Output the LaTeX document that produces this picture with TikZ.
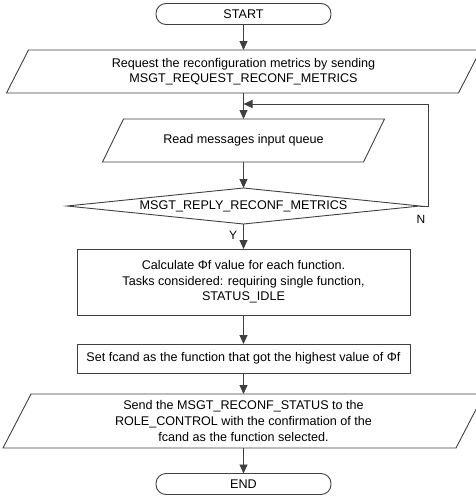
\documentclass[tikz,border=0pt]{standalone}
\usepackage{fontspec}
\setmainfont{Liberation Sans}
\usetikzlibrary{arrows.meta,calc}
\definecolor{ln}{HTML}{404040}
\begin{document}
\begin{tikzpicture}[x=1pt,y=-1pt,
  every node/.style={inner sep=0pt,outer sep=0pt,align=center,text=black,font=\fontsize{12.6}{15.6}\selectfont},
  term/.style={draw=ln,line width=0.9pt,rounded corners=10pt,minimum width=175pt,minimum height=21pt},
  box/.style={draw=ln,line width=0.9pt,minimum width=333pt},
  plain/.style={},
  outline/.style={draw=ln,line width=0.9pt},
  flow/.style={draw=ln,line width=0.9pt,-{Triangle[width=8pt,length=9pt]}},
  lbl/.style={font=\fontsize{12}{14}\selectfont}]
\useasboundingbox (0,0) rectangle (475,498);
\node[term] (start) at (243.5,14) {START};
\node[plain,minimum width=452pt,minimum height=43pt] (p1) at (243.5,71.5)
  {Request the reconfiguration metrics by sending\\MSGT\_REQUEST\_RECONF\_METRICS};
\node[plain,minimum width=261pt,minimum height=43pt] (p2) at (243.5,140.5)
  {Read messages input queue};
\node[plain,minimum width=353pt,minimum height=36pt] (d) at (243.5,206)
  {MSGT\_REPLY\_RECONF\_METRICS};
\node[box,minimum height=66pt] (r1) at (243.5,282)
  {Calculate Φf value for each function.\\Tasks considered: requiring single function,\\STATUS\_IDLE};
\node[box,minimum height=29pt] (r2) at (243.5,358.5)
  {Set fcand as the function that got the highest value of Φf};
\node[plain,minimum width=453pt,minimum height=54pt] (p3) at (243.5,421)
  {Send the MSGT\_RECONF\_STATUS to the\\ROLE\_CONTROL with the confirmation of the\\fcand as the function selected.};
\node[term] (end) at (243.5,484) {END};
% outlines
\draw[outline] ($(p1.south west)+(-11,0)$) -- ($(p1.south east)+(-11,0)$) -- ($(p1.north east)+(11,0)$) -- ($(p1.north west)+(11,0)$) -- cycle;
\draw[outline] ($(p2.south west)+(-10.5,0)$) -- ($(p2.south east)+(-10.5,0)$) -- ($(p2.north east)+(10.5,0)$) -- ($(p2.north west)+(10.5,0)$) -- cycle;
\draw[outline] ($(p3.south west)+(-14,0)$) -- ($(p3.south east)+(-14,0)$) -- ($(p3.north east)+(14,0)$) -- ($(p3.north west)+(14,0)$) -- cycle;
\draw[outline] (d.west) -- (d.north) -- (d.east) -- (d.south) -- cycle;
% connectors
\coordinate (j) at (243.5,104);
\coordinate (rt) at (428,206);
\draw[flow] (start) -- (p1);
\draw[flow] (p1) -- (p2);
\draw[flow] (p2) -- (d.north);
\draw[flow] (d.south) -- (r1);
\draw[flow] (r1) -- (r2);
\draw[flow] (r2) -- (p3);
\draw[flow] (p3) -- (end);
\draw[flow] (d.east) -- (rt) |- (j);
\node[lbl] (ylab) at (233,235) {Y};
\node[lbl] (nlab) at (421,219) {N};
\end{tikzpicture}
\end{document}
